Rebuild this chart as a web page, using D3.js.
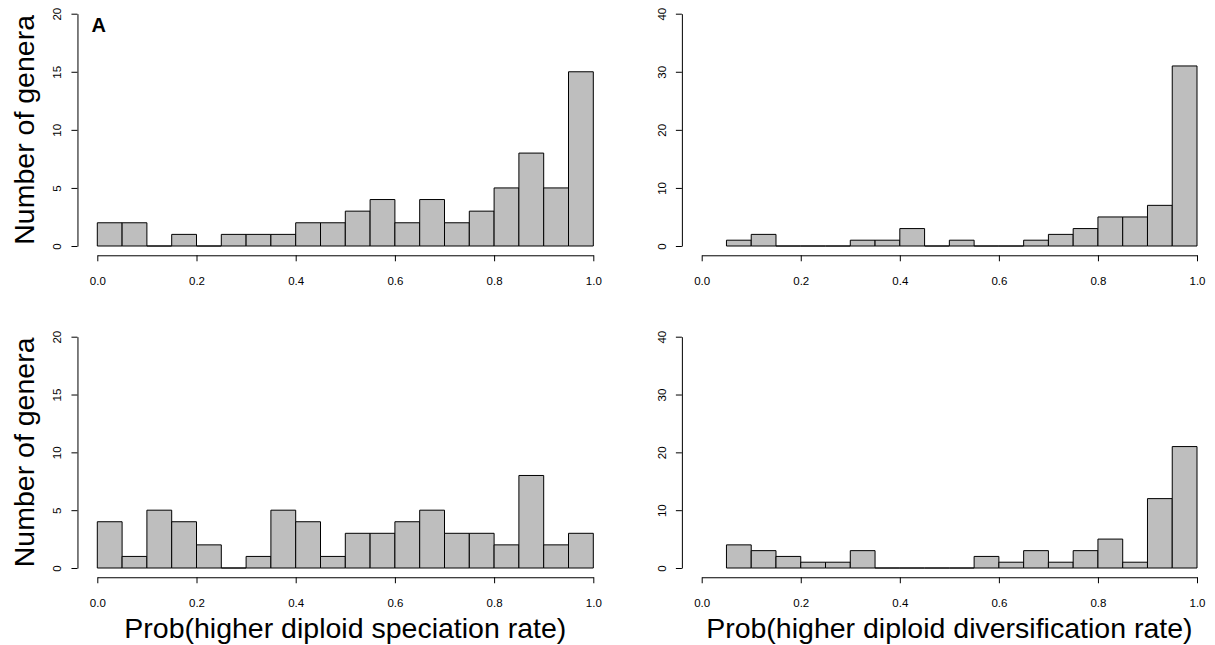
<!DOCTYPE html>
<html>
<head>
<meta charset="utf-8">
<script src="https://cdn.jsdelivr.net/npm/d3@7"></script>
<style>
  body { margin: 0; background: #fff; }
  svg, svg text { font-family: "Liberation Sans", Arial, sans-serif; }
  .bar { fill: #bebebe; stroke: #000; stroke-width: 1; }
  .axis path, .axis line { stroke: #000; stroke-width: 1; }
  .axis text { font-size: 11.5px; fill: #000; font-family: "Liberation Sans", Arial, sans-serif; }
</style>
</head>
<body>
<svg id="chart" width="1215" height="645"></svg>
<script>
// histogram bin edges (0.05 wide)
var breaks = [0, 0.05, 0.1, 0.15, 0.2, 0.25, 0.3, 0.35, 0.4, 0.45, 0.5,
  0.55, 0.6, 0.65, 0.7, 0.75, 0.8, 0.85, 0.9, 0.95, 1.0]
var xTicks = [0, 0.2, 0.4, 0.6, 0.8, 1.0]

// counts per bin, null = no bar drawn
var specTop = [2, 2, 0, 1, 0, 1, 1, 1, 2, 2, 3, 4, 2, 4, 2, 3, 5, 8, 5, 15]
var divTop = [null, 1, 2, 0, 0, 0, 1, 1, 3, 0, 1, 0, 0, 1, 2, 3, 5, 5, 7, 31]
var specBottom = [4, 1, 5, 4, 2, 0, 1, 5, 4, 1, 3, 3, 4, 5, 3, 3, 2, 8, 2, 3]
var divBottom = [null, 4, 3, 2, 1, 1, 3, 0, 0, 0, 0, 2, 1, 3, 1, 3, 5, 1, 12, 21]

var specTicks = [0, 5, 10, 15, 20]
var divTicks = [0, 10, 20, 30, 40]

var yTitle = 'Number of genera'
var xTitleLeft = 'Prob(higher diploid speciation rate)'
var xTitleRight = 'Prob(higher diploid diversification rate)'

var svg = d3.select('#chart')

var panels = [
  {counts: specTop, ticks: specTicks, left: 97.3, right: 593.3, top: 13.7, bottom: 246, tag: 'A', ytitle: true},
  {counts: divTop, ticks: divTicks, left: 701.7, right: 1197, top: 13.7, bottom: 246},
  {counts: specBottom, ticks: specTicks, left: 97.3, right: 593.3, top: 336.7, bottom: 568, ytitle: true, xtitle: xTitleLeft},
  {counts: divBottom, ticks: divTicks, left: 701.7, right: 1197, top: 336.7, bottom: 568, xtitle: xTitleRight}
]

panels.forEach(function(p) {
  var x = d3.scaleLinear().domain([0, 1]).range([p.left, p.right])
  var ymax = p.ticks[p.ticks.length - 1]
  var y = d3.scaleLinear().domain([0, ymax]).range([p.bottom, p.top])
  var g = svg.append('g')

  var bins = p.counts.map(function(c, i) {
    return {x0: breaks[i], x1: breaks[i + 1], n: c}
  }).filter(function(d) { return d.n !== null })

  // paths so that empty bins still show as a flat line, like R's hist
  g.selectAll('path.bar')
    .data(bins)
    .enter()
    .append('path')
    .attr('class', 'bar')
    .attr('d', function(d) {
      return 'M' + x(d.x0) + ',' + y(0) + 'V' + y(d.n) + 'H' + x(d.x1) + 'V' + y(0) + 'Z'
    })

  // R style axes sit 4% outside the data range
  var pad = (p.bottom - p.top) * 0.04
  var axisX = x(-0.04)

  var ya = g.append('g')
    .attr('class', 'axis')
    .attr('transform', 'translate(' + axisX + ',0)')
    .call(d3.axisLeft(y).tickValues(p.ticks).tickSize(6).tickSizeOuter(0).tickFormat(d3.format('d')))
  ya.selectAll('text')
    .attr('transform', 'rotate(-90)')
    .attr('x', 0)
    .attr('y', -16)
    .attr('dy', 0)
    .attr('text-anchor', 'middle')

  var xa = g.append('g')
    .attr('class', 'axis')
    .attr('transform', 'translate(0,' + (p.bottom + pad) + ')')
    .call(d3.axisBottom(x).tickValues(xTicks).tickSize(6).tickSizeOuter(0).tickFormat(d3.format('.1f')))
  xa.selectAll('text')
    .attr('y', 29.5)
    .attr('dy', 0)

  if (p.ytitle) {
    g.append('text')
      .attr('transform', 'translate(34,' + (p.top + p.bottom) / 2 + ') rotate(-90)')
      .attr('text-anchor', 'middle')
      .style('font-size', '28.5px')
      .text(yTitle)
  }
  if (p.xtitle) {
    g.append('text')
      .attr('x', (p.left + p.right) / 2)
      .attr('y', 638)
      .attr('text-anchor', 'middle')
      .style('font-size', '28.5px')
      .text(p.xtitle)
  }
  if (p.tag) {
    g.append('text')
      .attr('x', 91.5)
      .attr('y', 32.3)
      .style('font-size', '20px')
      .style('font-weight', 'bold')
      .text(p.tag)
  }
})
</script>
</body>
</html>
